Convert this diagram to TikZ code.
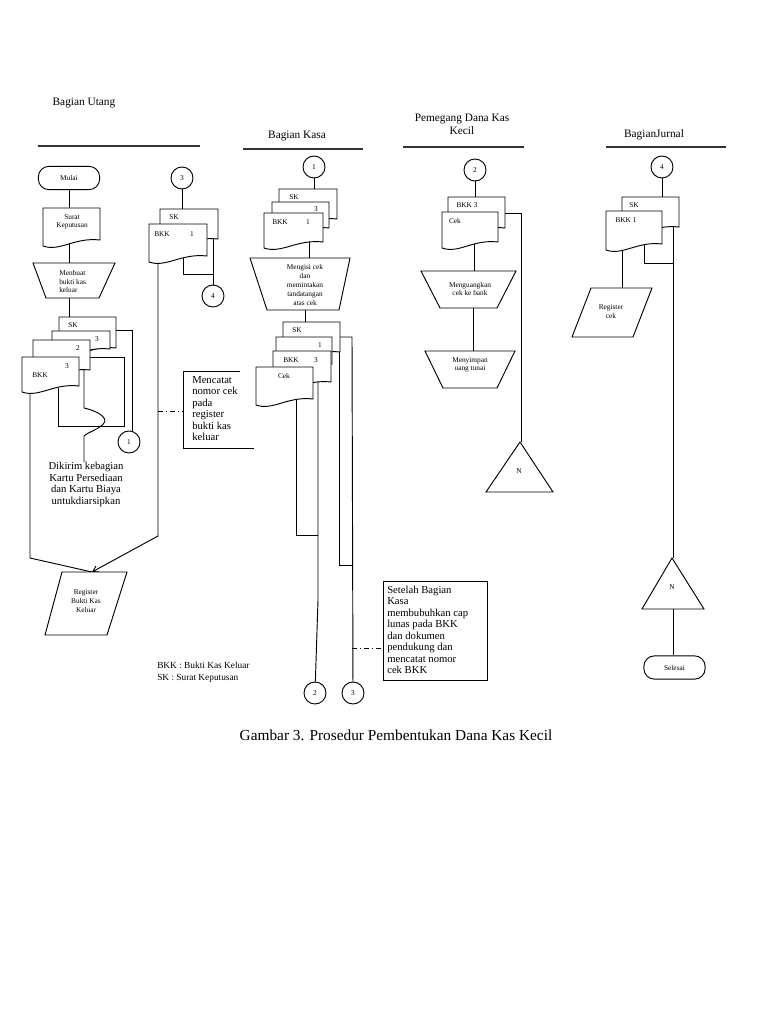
\documentclass[tikz,border=0pt]{standalone}
\usepackage{fontspec}
\setmainfont{Liberation Serif}
\usetikzlibrary{arrows.meta,backgrounds}
\newcommand{\docsh}[4]{\draw[shp] (#1,#2) -- ({#1+#3},#2) -- ({#1+#3},{#2+#4-6}) .. controls ({#1+0.55*#3},{#2+#4-9}) and ({#1+0.3*#3},{#2+#4+6}) .. (#1,{#2+#4}) -- cycle;}
\tikzset{
  shp/.style={draw, fill=white, line width=0.7pt},
  ln/.style={draw, line width=0.7pt},
  hline/.style={draw=black!80, line width=1.2pt},
  circ/.style={circle, draw, fill=white, line width=0.7pt, minimum size=16.5pt, inner sep=0pt, font=\fontsize{5.5}{6.5}\selectfont},
  term/.style={rectangle, rounded corners=8pt, draw, fill=white, line width=0.7pt, minimum width=46pt, minimum height=17.5pt, inner sep=0pt, font=\fontsize{5.5}{6.5}\selectfont},
  tinyf/.style={inner sep=0pt, font=\fontsize{5.5}{6.5}\selectfont},
  midf/.style={inner sep=0pt, font=\fontsize{8}{8.6}\selectfont},
  hdrf/.style={inner sep=0pt, font=\fontsize{8.5}{9.75}\selectfont},
  dashdot/.style={draw, line width=0.6pt, dash pattern=on 4pt off 2pt on 1pt off 2pt},
  arr/.style={ln, -{Straight Barb[length=4pt,width=5pt]}}
}
\begin{document}
\begin{tikzpicture}[x=0.75pt,y=-0.75pt]
\useasboundingbox (0,0) rectangle (768,1024);

% ---------- headers ----------
\node[hdrf] (hU) at (84,103) {Bagian Utang};
\draw[hline] (38,146) -- (200,146);
\node[hdrf] (hK) at (297,136) {Bagian Kasa};
\draw[hline] (243,149) -- (363,149);
\node[hdrf,align=center] (hP) at (462,124.5) {Pemegang Dana Kas\\Kecil};
\draw[hline] (403,147) -- (524,147);
\node[hdrf] (hJ) at (654,135) {BagianJurnal};
\draw[hline] (606,147) -- (726,147);

% ---------- Bagian Utang, column 1 ----------
\node[term] (mulai) at (69,178) {Mulai};
\docsh{43}{208}{57}{38}
\node[tinyf,align=center] (surat) at (72,222) {Surat\\Keputusan};
\draw[shp] (33,263) -- (115,263) -- (99,298) -- (46,298) -- cycle;
\node[tinyf,align=left,anchor=west] (menbuat) at (59,281.5) {Menbuat\\bukti kas\\keluar};
\coordinate (trapUt) at (69,263);
\coordinate (trapUb) at (69,298);
\coordinate (suratb) at (69,240);
\coordinate (suratt) at (69,208);

\docsh{59}{317}{57}{37}
\docsh{52}{331}{58}{24}
\docsh{33}{340}{57}{36}
\docsh{22}{357}{57}{35}
\node[tinyf] (skU) at (73,325) {SK};
\node[tinyf] (n3a) at (97,339) {3};
\node[tinyf] (n2a) at (78,348) {2};
\node[tinyf] (n3b) at (67,366) {3};
\node[tinyf] (bkkU) at (40,375) {BKK};
\coordinate (stackUt) at (69,317);

\node[circ] (c1U) at (129,442) {1};

\node[midf,align=center] (dikirim) at (86,484.5) {Dikirim kebagian\\Kartu Persediaan\\dan Kartu Biaya\\untukdiarsipkan};

\draw[shp] (62,572) -- (127,572) -- (107,635) -- (45,635) -- cycle;
\node[tinyf,align=center] (regbkk) at (86,601) {Register\\Bukti Kas\\Keluar};
\coordinate (regtop) at (92,572);

% ---------- Bagian Utang, column 2 ----------
\node[circ] (c3U) at (182,178) {3};
\docsh{160}{209}{58}{36}
\docsh{149}{224}{58}{38}
\node[tinyf] (skU2) at (174,217) {SK};
\node[tinyf] (bkkU2) at (162,234) {BKK};
\node[tinyf] (n1U2) at (192,234) {1};
\node[circ] (c4U) at (213,296) {4};

\draw[ln] (240,371) -- (183,371) -- (183,448) -- (254,448);
\coordinate (mencatatL) at (183,411);
\node[midf,align=left,anchor=west] (mencatat) at (192,408.5) {Mencatat\\nomor cek\\pada\\register\\bukti kas\\keluar};

\node[inner sep=0pt,font=\fontsize{7}{9}\selectfont,align=left,anchor=west] (legend) at (157,672) {BKK : Bukti Kas Keluar\\SK : Surat Keputusan};

% ---------- Bagian Kasa ----------
\node[circ] (c1K) at (314,167) {1};
\docsh{279}{189}{58}{36}
\docsh{272}{202}{57}{32}
\docsh{264}{213}{59}{35}
\node[tinyf] (skK) at (294,197) {SK};
\node[tinyf] (n3K) at (316,209) {3};
\node[tinyf] (bkkK) at (280,222) {BKK};
\node[tinyf] (n1K) at (308,222) {1};

\draw[shp] (250,258) -- (350,258) -- (339,310) -- (267,310) -- cycle;
\node[tinyf,align=center,font=\fontsize{5.5}{6.75}\selectfont] (mengisi) at (305,285) {Mengisi cek\\dan\\memintakan\\tandatangan\\atas cek};

\docsh{283}{322}{57}{36}
\docsh{276}{337}{56}{33}
\docsh{273}{351}{58}{37}
\docsh{256}{367}{57}{38}
\node[tinyf] (skK2) at (297,330) {SK};
\node[tinyf] (n1K2) at (320,345) {1};
\node[tinyf] (bkkK2) at (291,360) {BKK};
\node[tinyf] (n3K2) at (316,360) {3};
\node[tinyf] (cekK) at (284,376) {Cek};

\node[circ] (c2K) at (315,693) {2};
\node[circ] (c3K) at (353,693) {3};

\draw[ln] (383,581) rectangle (487,680);
\coordinate (setelahL) at (383,648);
\node[midf,align=left,anchor=west] (setelah) at (387,630) {Setelah Bagian\\Kasa\\membubuhkan cap\\lunas pada BKK\\dan dokumen\\pendukung dan\\mencatat nomor\\cek BKK};

% ---------- Pemegang Dana Kas Kecil ----------
\node[circ] (c2P) at (475,170) {2};
\docsh{448}{197}{57}{37}
\docsh{442}{212}{56}{36}
\node[tinyf] (bkkP) at (467,205) {BKK 3};
\node[tinyf] (cekP) at (455,221) {Cek};
\draw[shp] (421,271) -- (516,271) -- (497,308) -- (440,308) -- cycle;
\node[tinyf,align=center] (menguang) at (470,289) {Menguangkan\\cek ke bank};
\draw[shp] (425,351) -- (515,351) -- (497,388) -- (443,388) -- cycle;
\node[tinyf,align=center] (menyimpan) at (470,365) {Menyimpan\\uang tunai};
\draw[shp] (520,442) -- (553,492) -- (486,492) -- cycle;
\node[tinyf] (nP) at (519,471) {N};

% ---------- Bagian Jurnal ----------
\node[circ] (c4J) at (662,167) {4};
\docsh{622}{197}{57}{36}
\docsh{606}{211}{56}{39}
\node[tinyf] (skJ) at (634,205) {SK};
\node[tinyf] (bkkJ) at (626,220) {BKK 1};
\draw[shp] (591,288) -- (652,288) -- (633,337) -- (572,337) -- cycle;
\node[tinyf,align=center] (regcek) at (611,311.5) {Register\\cek};
\draw[shp] (672,558) -- (704,609) -- (642,609) -- cycle;
\node[tinyf] (nJ) at (672,587) {N};
\node[term] (selesai) at (674.5,667.5) {Selesai};

% ---------- caption ----------
\node[inner sep=0pt,font=\fontsize{11.5}{13}\selectfont] (caption) at (396,735) {Gambar 3. Prosedur Pembentukan Dana Kas Kecil};

% ---------- connectors (behind shapes) ----------
\begin{pgfonlayer}{background}
  % Bagian Utang col 1
  \draw[ln] (mulai.south) -- (suratt);
  \draw[ln] (suratb) -- (trapUt);
  \draw[ln] (trapUb) -- (stackUt);
  \draw[ln] (110,330) -- (132,330) -- (132,442) -- (c1U);
  \draw[ln] (58,388) -- (58,426) -- (124,426) -- (124,357) -- (85,357);
  \draw[ln] (84,366) -- (84,408) .. controls (98,411) and (108,418) .. (104,423) .. controls (100,429) and (88,432) .. (84,436) -- (dikirim.north -| 84,0);
  \draw[ln] (30,388) -- (30,558) -- (regtop);
  % Bagian Utang col 2
  \draw[ln] (c3U) -- (182,209);
  \draw[ln] (213,230) -- (c4U);
  \draw[ln] (183,255) -- (183,274) -- (213,274);
  \draw[arr] (158,255) -- (158,536) -- (regtop);
  \draw[dashdot] (158,411) -- (mencatatL);
  % Bagian Kasa
  \draw[ln] (c1K) -- (314,189);
  \draw[ln] (309,240) -- (309,258);
  \draw[ln] (305,310) -- (305,322);
  \draw[ln] (337,345) -- (339,345) -- (339,565) -- (352,565);
  \draw[ln] (330,337) -- (352,337) -- (c3K);
  \draw[ln] (318,378) -- (318,600) -- (c2K);
  \draw[ln] (296,400) -- (296,535) -- (318,535);
  \draw[dashdot] (352,648) -- (setelahL);
  % Pemegang
  \draw[ln] (c2P) -- (475,197);
  \draw[ln] (500,213) -- (521,213) -- (521,442);
  \draw[ln] (474,240) -- (474,271);
  \draw[ln] (473,308) -- (473,351);
  % Jurnal
  \draw[ln] (c4J) -- (662,197);
  \draw[ln] (673,222) -- (673,558);
  \draw[ln] (644,243) -- (644,263) -- (673,263);
  \draw[ln] (622,245) -- (622,288);
  \draw[ln] (673,609) -- (selesai.north -| 673,0);
\end{pgfonlayer}
\end{tikzpicture}
\end{document}
